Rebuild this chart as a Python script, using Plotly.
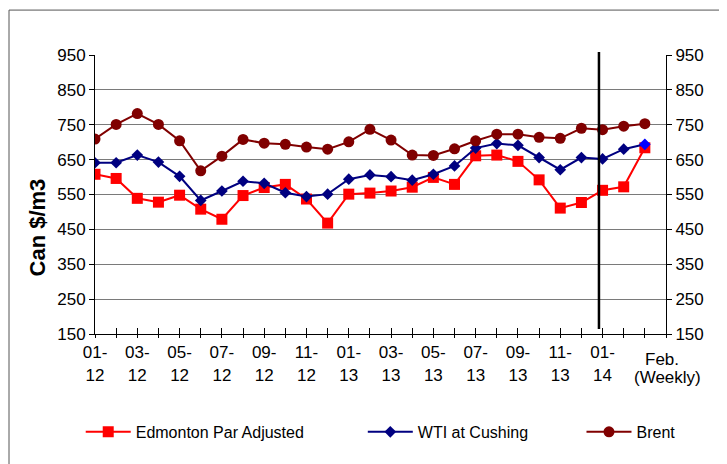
import plotly.graph_objects as go

# ---- data -----------------------------------------------------------------
x_index = list(range(27))
tick_positions = list(range(28))
tick_labels = ["01-<br>12", "", "03-<br>12", "", "05-<br>12", "", "07-<br>12", "",
               "09-<br>12", "", "11-<br>12", "", "01-<br>13", "", "03-<br>13", "",
               "05-<br>13", "", "07-<br>13", "", "09-<br>13", "", "11-<br>13", "",
               "01-<br>14", "", "", ""]
weekly_label_lines = ["Feb.", "(Weekly)"]
y_title = "Can $/m3"

edmonton = [608, 596, 539, 528, 548, 508, 479, 547, 570, 579, 537, 468, 551, 554,
            560, 571, 599, 579, 661, 663, 645, 592, 511, 527, 562, 572, 684]
wti = [641, 641, 663, 643, 602, 533, 560, 588, 582, 555, 544, 551, 594, 606,
       601, 591, 608, 632, 683, 696, 691, 656, 621, 656, 652, 680, 694]
brent = [709, 751, 782, 751, 704, 618, 660, 708, 697, 694, 686, 680, 701, 737,
         706, 663, 662, 681, 704, 723, 723, 714, 711, 740, 736, 746, 753]

y_ticks = [150, 250, 350, 450, 550, 650, 750, 850, 950]

FONT = "Liberation Sans, Arial, sans-serif"

wti_colors = ["#000080"] * (len(wti) - 1) + ["#0000FF"]

fig = go.Figure()
fig.add_trace(go.Scatter(
    x=x_index, y=edmonton, name="Edmonton Par Adjusted", mode="lines+markers",
    line=dict(color="#FF0000", width=2),
    marker=dict(symbol="square", size=11, color="#FF0000"), legend="legend"))
fig.add_trace(go.Scatter(
    x=x_index, y=wti, name="WTI at Cushing", mode="lines+markers",
    line=dict(color="#000080", width=2),
    marker=dict(symbol="diamond", size=9, color=wti_colors), legend="legend2"))
fig.add_trace(go.Scatter(
    x=x_index, y=brent, name="Brent", mode="lines+markers",
    line=dict(color="#800000", width=2),
    marker=dict(symbol="circle", size=11, color="#800000"), legend="legend3"))
# invisible helper trace to activate secondary axes
fig.add_trace(go.Scatter(
    x=x_index, y=brent, xaxis="x2", yaxis="y2", mode="lines", opacity=0,
    showlegend=False, hoverinfo="skip"))

legend_common = dict(orientation="h", y=-0.351, xanchor="left", yanchor="middle",
                     font=dict(size=16, family=FONT), bgcolor="rgba(0,0,0,0)",
                     itemwidth=45)

fig.update_layout(
    width=727, height=464,
    margin=dict(l=87, r=69, t=47, b=138, autoexpand=False),
    paper_bgcolor="white", plot_bgcolor="white",
    font=dict(family=FONT, size=17, color="black"),
    xaxis=dict(range=[0, 27], tickmode="array", tickvals=tick_positions,
               ticktext=tick_labels, ticks="outside", ticklen=3,
               tickcolor="black", showline=True, linecolor="black", linewidth=1,
               showgrid=False, zeroline=False, tickangle=0, automargin=False,
               tickfont=dict(size=17, family=FONT)),
    xaxis2=dict(range=[0, 27], overlaying="x", side="bottom", anchor="y",
                tickmode="array", tickvals=tick_positions, ticks="inside",
                ticklen=6, tickcolor="black", showticklabels=False,
                showgrid=False, zeroline=False, showline=False, automargin=False),
    yaxis=dict(range=[150, 950], tickmode="array", tickvals=y_ticks,
               ticks="outside", ticklen=5, tickcolor="black",
               showline=True, linecolor="black", linewidth=1, automargin=False,
               showgrid=True, gridcolor="#7a7a7a", gridwidth=1, zeroline=False,
               tickfont=dict(size=17, family=FONT)),
    yaxis2=dict(range=[150, 950], overlaying="y", side="right", anchor="x",
                tickmode="array", tickvals=y_ticks, ticks="outside", ticklen=5,
                tickcolor="black", showline=True, linecolor="black", linewidth=1,
                showgrid=False, zeroline=False, automargin=False,
                tickfont=dict(size=17, family=FONT)),
    legend=dict(x=-0.025, **legend_common),
    legend2=dict(x=0.469, **legend_common),
    legend3=dict(x=0.852, **legend_common),
    showlegend=True,
    annotations=[
        dict(text=weekly_label_lines[0], xref="x", yref="paper", x=27, xshift=-4,
             y=-0.093, xanchor="center", yanchor="middle", showarrow=False,
             font=dict(size=17, family=FONT)),
        dict(text=weekly_label_lines[1], xref="x", yref="paper", x=27, xshift=1,
             y=-0.156, xanchor="center", yanchor="middle", showarrow=False,
             font=dict(size=17, family=FONT)),
        dict(text="<b>" + y_title + "</b>", xref="paper", yref="paper",
             x=-0.1007, y=0.38, textangle=-90, xanchor="center", yanchor="middle",
             showarrow=False, font=dict(size=22, family=FONT)),
    ],
    shapes=[
        dict(type="rect", xref="paper", yref="paper", x0=-0.1506, x1=1.12,
             y0=-0.5, y1=1.161, line=dict(color="#555555", width=1), layer="below"),
        dict(type="line", xref="x", yref="paper", x0=23.83, x1=23.83,
             y0=0.018, y1=1.011, line=dict(color="black", width=2.5)),
    ],
)

fig.write_html("out.html")
